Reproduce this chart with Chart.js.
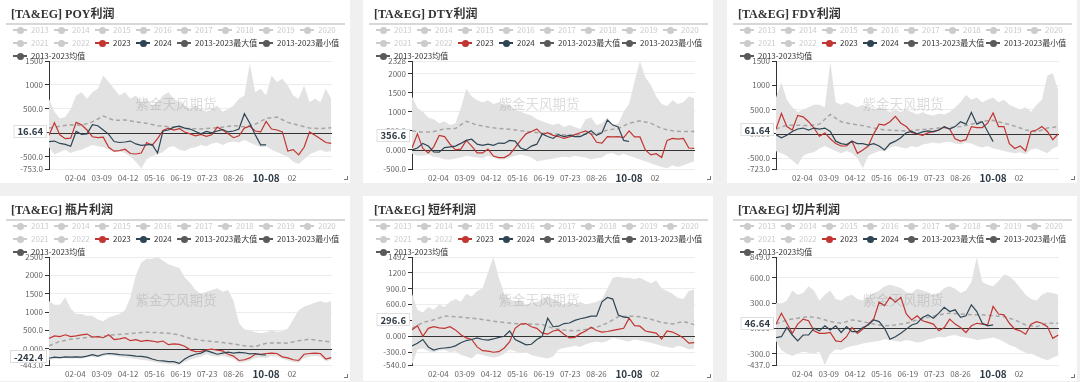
<!DOCTYPE html>
<html><head><meta charset="utf-8">
<script src="https://cdn.jsdelivr.net/npm/chart.js@4.4.0/dist/chart.umd.min.js"></script>
<style>
html,body{margin:0;padding:0;background:#f0f0f0;width:1080px;height:382px;overflow:hidden;}
.panel{position:absolute;background:#fff;width:350px;}
.title{position:absolute;left:11px;top:7px;font:bold 12px "Liberation Serif","Noto Sans CJK SC";color:#333;white-space:nowrap;line-height:14px;z-index:3;}
.rule{position:absolute;left:6px;top:23px;width:339px;height:2px;background:#d8d8d8;z-index:3;}
.leg{position:absolute;font:8px "Noto Sans CJK SC";white-space:nowrap;line-height:10px;height:10px;z-index:3;}
.ic{display:inline-block;position:relative;width:14px;height:10px;vertical-align:top;}
.ic::before{content:'';position:absolute;left:0;top:4px;width:14px;height:2px;background:var(--c);}
.ic::after{content:'';position:absolute;left:3.5px;top:1.5px;width:7px;height:7px;border-radius:50%;background:var(--c);}
.tx{display:inline-block;vertical-align:top;margin-left:4px;}
.corner{position:absolute;width:3px;height:3px;border-right:1px solid #777;border-bottom:1px solid #777;z-index:3;}
canvas{position:absolute;left:0;top:0;z-index:1;}
</style></head><body>
<script>
// ---- categories (day of year) ----
const DAYS7 = [0,7,14,21,28,35,42,49,56,63,70,77,84,91,98,105,112,119,126,133,140,147,154,161,168,175,182,189,196,203,210,217,224,231,238,245,252,259,266,273,280,287,294,301,308,315,322,329,336,343,350,357,364];
const DAYS14 = [0,14,28,42,56,70,84,98,112,126,140,154,168,182,196,210,224,238,252,266,280,294,308,322,336,350,364];
const X_TICK_DAYS = [34,68,102,136,170,204,238,306];
const X_TICK_LABELS = ['02-04','03-09','04-12','05-16','06-19','07-23','08-26','11-02'];
const POINTER_DAY = 280;
const POINTER_LABEL = '10-08';

// ---- POY ----
const poy2023 = [-50,210,-40,-120,-110,220,170,60,-80,-100,-90,-300,-380,-370,-340,-430,-440,-420,-200,-260,-120,50,100,60,90,20,-20,-60,-30,-70,-40,120,60,-20,-100,-60,100,140,40,20,240,80,60,20,-380,-350,-460,-300,20,-50,-120,-200,-220];
const poy2024 = [-180,-170,-220,-240,-280,30,-30,-20,170,150,60,-30,-180,-200,-190,-170,-230,-260,-250,-240,-420,40,60,120,140,100,80,30,-20,30,0,40,70,20,40,80,400,200,-40,-250,-250];
const poyMax = [710,440,300,330,500,780,850,710,850,920,1200,1060,920,780,850,710,780,640,710,570,640,780,850,710,640,570,500,570,500,440,500,570,440,500,570,710,780,1450,850,920,780,1200,1060,1130,990,780,710,990,640,710,640,920,710];
const poyMin = [-300,-450,-400,-350,-420,-380,-350,-300,-250,-280,-300,-350,-400,-380,-420,-500,-600,-740,-550,-480,-450,-400,-300,-280,-350,-380,-320,-300,-250,-280,-220,-200,-250,-200,-180,-200,-150,-200,-250,-300,-280,-350,-400,-450,-500,-600,-650,-550,-450,-400,-350,-400,-380];
const poyAvg = [100,140,170,160,230,350,260,270,230,200,150,130,100,90,80,100,120,150,130,180,300,330,220,160,100,90,110];

// ---- DTY ----
const dty2023 = [50,420,40,-80,80,380,350,150,0,20,250,100,-80,-80,20,-160,-200,-200,-120,60,250,420,480,550,400,450,380,350,300,340,400,450,500,420,200,180,350,340,350,320,500,340,340,0,-130,-100,-200,250,300,280,300,50,40];
const dty2024 = [0,50,170,100,-50,-60,60,80,100,170,250,280,150,120,150,120,180,170,250,230,50,0,100,150,420,350,300,400,350,380,350,350,420,500,380,450,780,650,600,250,220];
const dtyMax = [1400,1100,1000,850,800,700,750,650,700,1100,1600,1400,1300,1250,1300,1200,1250,1150,1200,1050,1000,950,900,800,750,700,650,700,600,650,600,550,800,850,650,700,850,650,700,1000,1200,1800,2320,1900,1700,1400,1200,1150,1300,1200,1250,1400,1350];
const dtyMin = [-100,-150,-150,-120,-180,-200,-250,-250,-230,-200,-150,-180,-200,-220,-150,-200,-250,-250,-200,-150,-120,-150,-200,-300,-280,-250,-230,-200,-180,-200,-150,-180,-200,-250,-220,-200,-100,-80,-150,-100,-150,-200,-250,-300,-350,-400,-450,-480,-400,-450,-400,-350,-300];
const dtyAvg = [500,460,480,550,560,750,650,600,560,540,500,470,440,420,400,390,410,420,520,560,700,760,700,560,500,480,480];

// ---- FDY ----
const fdy2023 = [100,420,150,80,380,350,250,120,-50,20,-100,-200,-250,-250,-150,-400,-330,-250,0,200,180,250,360,220,150,30,0,-30,20,50,80,140,100,-100,-150,-120,150,130,130,220,430,150,150,-200,-300,-250,-350,50,80,150,50,-120,0];
const fdy2024 = [-20,-80,-30,50,100,120,80,120,100,120,50,-150,-200,-220,-150,-200,-200,-230,-200,-250,-330,-200,-150,-80,20,50,0,40,60,40,80,150,100,150,250,200,440,200,250,50,-160];
const fdyMax = [750,1060,700,550,450,500,550,600,600,550,1480,650,600,650,600,550,600,550,500,550,500,450,500,450,500,450,400,450,400,380,420,400,450,550,650,800,700,750,650,700,750,650,700,600,550,500,550,450,600,700,1200,1250,900];
const fdyMin = [-360,-400,-450,-550,-640,-450,-400,-380,-300,-250,-300,-350,-400,-350,-400,-500,-710,-450,-400,-350,-360,-280,-250,-280,-300,-250,-280,-220,-200,-180,-200,-170,-160,-200,-220,-180,-200,-250,-280,-250,-300,-320,-350,-380,-400,-380,-420,-320,-300,-350,-400,-300,-250];
const fdyAvg = [100,180,180,170,200,400,250,200,170,120,80,70,60,80,100,120,130,150,200,260,280,220,160,80,40,120,150];

// ---- 瓶片 ----
const pet2023 = [280,350,330,380,330,350,380,400,320,330,300,380,250,270,300,220,250,200,230,210,180,210,110,130,120,70,-30,-80,-70,-30,-10,-40,-60,-150,-200,-320,-300,-250,-150,-150,-130,-120,-130,-220,-250,-300,-320,-150,-130,-120,-130,-280,-240];
const pet2024 = [-260,-230,-240,-220,-230,-220,-230,-200,-160,-200,-150,-130,-140,-160,-170,-180,-200,-210,-230,-280,-320,-330,-350,-350,-400,-280,-200,-150,-120,-50,-100,-150,-120,-90,-120,-100,-110,-140,-130,-160,-170];
const petMax = [1300,1200,1200,1400,1100,950,950,900,900,800,750,850,900,950,1050,1400,2000,2350,2450,2450,2490,2400,2300,2250,2200,1950,1800,1600,1500,1550,1600,1650,1550,1600,1300,700,530,500,450,420,450,500,460,480,550,800,1050,1150,1200,1250,1300,1250,1300];
const petMin = [-300,-270,-280,-260,-270,-260,-270,-240,-220,-240,-200,-180,-200,-220,-240,-260,-280,-300,-320,-350,-380,-400,-420,-430,-443,-360,-300,-250,-220,-150,-200,-220,-200,-230,-270,-380,-360,-320,-250,-240,-250,-200,-220,-280,-320,-360,-380,-250,-220,-200,-220,-340,-300];
const petAvg = [80,200,260,290,320,340,380,400,430,450,440,420,380,280,230,200,170,130,80,60,150,160,150,220,260,220,180];

// ---- 短纤 ----
const psf2023 = [120,200,0,150,180,160,150,180,120,30,-30,-60,-200,-270,-280,-300,-290,-220,-100,150,230,240,180,150,60,40,100,120,40,-30,-20,50,100,170,110,80,90,110,130,150,340,200,190,100,80,60,-50,100,80,30,-30,-130,-120];
const psf2024 = [-180,-130,-60,-200,-260,-230,-220,-210,-180,-120,-80,-60,-30,-60,-70,-50,-20,0,100,-60,-110,-160,-150,-60,0,340,180,190,240,250,300,330,350,380,380,650,730,700,400,360,350];
const psfMax = [800,500,450,550,500,600,550,650,700,650,800,750,850,900,1200,1490,1100,800,700,650,680,600,620,650,700,750,700,650,600,650,600,650,600,620,650,700,900,1100,1120,1100,1100,1080,1100,1050,1000,1050,900,850,800,720,700,850,880];
const psfMin = [-540,-250,-230,-280,-300,-270,-260,-300,-280,-350,-380,-420,-330,-350,-380,-400,-380,-330,-250,-280,-320,-300,-350,-380,-400,-420,-380,-250,-220,-200,-180,-200,-150,-120,-100,-120,-90,-30,-50,-80,-100,-60,-80,-100,-120,-150,-180,-200,-220,-180,-200,-250,-230];
const psfAvg = [150,260,310,380,370,350,330,300,270,250,230,230,220,150,120,100,130,170,250,370,380,370,320,260,230,280,220];

// ---- 切片 ----
const chip2023 = [50,180,60,-60,50,110,90,-30,-60,-60,-50,-150,-160,-100,10,-60,-10,50,110,310,270,370,310,370,170,100,150,90,70,50,-30,10,110,50,10,-50,30,60,50,40,260,170,160,60,-10,-30,-70,50,80,60,20,-120,-80];
const chip2024 = [-110,-100,10,-80,-150,-80,-80,0,-30,30,-20,30,-50,20,-40,-40,10,40,100,80,0,-130,-100,-60,-10,40,60,130,160,120,180,250,200,220,130,150,280,200,60,30,40];
const chipMax = [300,290,330,450,400,420,500,450,330,400,450,350,330,380,400,350,330,380,420,450,500,520,500,480,430,420,470,450,430,400,420,480,500,470,420,450,550,845,550,520,500,560,640,620,560,480,400,350,330,400,430,420,400];
const chipMin = [-150,-260,-300,-330,-300,-280,-290,-300,-280,-437,-300,-250,-260,-230,-210,-200,-180,-170,-160,-150,-130,-140,-150,-160,-140,-150,-170,-160,-130,-120,-100,-110,-90,-80,-100,-110,-120,-140,-130,-120,-110,-130,-160,-200,-220,-260,-290,-300,-330,-360,-380,-350,-320];
const chipAvg = [50,100,120,140,120,80,60,100,80,50,30,40,60,100,130,160,180,170,160,160,150,140,100,40,20,60,60];

// ---- per-panel axis settings ----
const TITLES = ['[TA&EG] POY利润','[TA&EG] DTY利润','[TA&EG] FDY利润','[TA&EG] 瓶片利润','[TA&EG] 短纤利润','[TA&EG] 切片利润'];
const Y_MIN = [-753,-500,-723,-443,-540,-437];
const Y_MAX = [1500,2328,1500,2500,1492,849];
const Y_TICKS = [
  [-753,-500,0,500,1000,1500],
  [-500,0,500,1000,1500,2000,2328],
  [-723,-500,0,500,1000,1500],
  [-443,0,500,1000,1500,2000,2500],
  [-540,-300,0,300,600,900,1200,1492],
  [-437,-300,0,300,600,849]
];
const CROSS_VALUES = [16.64,356.6,61.64,-242.4,296.6,46.64];
const SERIES = [
  [poy2023,poy2024,poyMax,poyMin,poyAvg],
  [dty2023,dty2024,dtyMax,dtyMin,dtyAvg],
  [fdy2023,fdy2024,fdyMax,fdyMin,fdyAvg],
  [pet2023,pet2024,petMax,petMin,petAvg],
  [psf2023,psf2024,psfMax,psfMin,psfAvg],
  [chip2023,chip2024,chipMax,chipMin,chipAvg]
];
const LEGEND_ROWS = [
  [['2013',20],['2014',61],['2015',102],['2016',143],['2017',184],['2018',225],['2019',266],['2020',307]],
  [['2021',20],['2022',61],['2023',102],['2024',143],['2013-2023最大值',184],['2013-2023最小值',266]],
  [['2013-2023均值',20]]
];
const WATERMARK = '紫金天风期货';

const C23 = '#c23531', C24 = '#2f4554', CSTAT = '#5a5a5a', CINACT = '#cccccc';
const FONT = '"Noto Sans CJK SC","Noto Sans",sans-serif';
Chart.defaults.font.family = FONT;

function fmt(v){ return Number(v).toPrecision(4); }
function pts(days, vals){ return vals.map((v,i)=>({x:days[i], y:v})); }

const overlay = {
  id:'overlay',
  beforeDatasetDraw(chart,args){
    if(args.index!==2) return;
    const {ctx, chartArea:a} = chart;
    const py = Math.round(chart.scales.y.getPixelForValue(0))+0.5;
    ctx.save(); ctx.strokeStyle='#333'; ctx.lineWidth=1;
    ctx.beginPath(); ctx.moveTo(a.left,py); ctx.lineTo(a.right,py); ctx.stroke(); ctx.restore();
  },
  afterDraw(chart){
    const o = chart.options.plugins.overlay;
    const {ctx, chartArea:a} = chart;
    const xs = chart.scales.x, ys = chart.scales.y;
    ctx.save();
    // watermark
    ctx.font = '13.5px '+FONT; ctx.fillStyle='rgba(140,140,140,0.30)';
    ctx.textAlign='center'; ctx.textBaseline='middle';
    ctx.fillText(WATERMARK, 176, 104);
    // y axis pointer label
    const yv = ys.getPixelForValue(o.cross) - 1;
    const yt = fmt(o.cross);
    ctx.font = 'bold 9.5px '+FONT;
    const tw = ctx.measureText(yt).width;
    const bx1 = a.left - 2, bx0 = bx1 - tw - 8;
    ctx.fillStyle='#fff'; ctx.strokeStyle='rgba(0,0,0,0.13)'; ctx.lineWidth=1;
    ctx.fillRect(bx0, yv-6.5, bx1-bx0, 13);
    ctx.strokeRect(bx0+0.5, Math.round(yv-6.5)+0.5, bx1-bx0-1, 12);
    ctx.fillStyle='#2e3a46'; ctx.textAlign='right';
    ctx.fillText(yt, bx1-4, yv+0.5);
    // x axis pointer label
    const xp = xs.getPixelForValue(POINTER_DAY);
    ctx.font = 'bold 10px '+FONT;
    const xw = ctx.measureText(POINTER_LABEL).width;
    ctx.fillStyle='#fff';
    ctx.fillRect(xp - xw/2 - 7, a.bottom+2, xw+14, 14);
    ctx.fillStyle='#2e3a46'; ctx.textAlign='center';
    ctx.fillText(POINTER_LABEL, xp, a.bottom+9.5);
    ctx.restore();
  }
};

const LEFTS = [0,363,727], TOPS = [0,196], HEIGHTS = [183,185];

for(let k=0;k<6;k++){
  const col = k%3, row = Math.floor(k/3);
  const H = HEIGHTS[row];
  const panel = document.createElement('div');
  panel.className='panel';
  panel.style.left = LEFTS[col]+'px'; panel.style.top = TOPS[row]+'px'; panel.style.height = H+'px';
  document.body.appendChild(panel);

  const t = document.createElement('div'); t.className='title'; t.textContent = TITLES[k]; panel.appendChild(t);
  const r = document.createElement('div'); r.className='rule'; panel.appendChild(r);
  LEGEND_ROWS.forEach((items,ri)=>{
    const rowY = 30 + ri*13;
    items.forEach(([name,cx])=>{
      let ic = CINACT, tc = CINACT;
      if(name==='2023'){ic=C23;tc='#333';}
      else if(name==='2024'){ic=C24;tc='#333';}
      else if(name.indexOf('2013-2023')===0){ic=CSTAT;tc='#333';}
      const it = document.createElement('div'); it.className='leg';
      it.style.left=(cx-7)+'px'; it.style.top=(rowY-5)+'px';
      it.innerHTML = '<span class="ic" style="--c:'+ic+'"></span><span class="tx" style="color:'+tc+'">'+name+'</span>';
      panel.appendChild(it);
    });
  });
  const cn = document.createElement('div'); cn.className='corner';
  cn.style.left='344px'; cn.style.top=(H-7)+'px'; panel.appendChild(cn);

  const cv = document.createElement('canvas'); cv.width=350; cv.height=H; panel.appendChild(cv);
  const [s23,s24,sMax,sMin,sAvg] = SERIES[k];
  const yTicks = Y_TICKS[k];
  new Chart(cv.getContext('2d'),{
    type:'line',
    data:{datasets:[
      {label:'2013-2023最大值', data:pts(DAYS7,sMax), borderWidth:0, pointRadius:0, fill:1, backgroundColor:'#e2e2e2', order:5, tension:0},
      {label:'2013-2023最小值', data:pts(DAYS7,sMin), borderWidth:0, pointRadius:0, fill:false, order:6, tension:0},
      {label:'2013-2023均值', data:pts(DAYS14,sAvg), borderColor:'#a6a6a6', borderWidth:1.5, borderDash:[4,3], pointRadius:0, fill:false, order:3, tension:0},
      {label:'2023', data:pts(DAYS7,s23), borderColor:C23, borderWidth:1.2, pointRadius:0, fill:false, order:2, tension:0},
      {label:'2024', data:pts(DAYS7,s24), borderColor:C24, borderWidth:1.2, pointRadius:0, fill:false, order:1, tension:0}
    ]},
    options:{
      responsive:false, animation:false, devicePixelRatio:1,
      layout:{padding:{left:0,top:61,right:18,bottom:0}},
      plugins:{legend:{display:false}, tooltip:{enabled:false}, overlay:{cross:CROSS_VALUES[k]}},
      scales:{
        x:{type:'linear', min:0, max:365,
          afterBuildTicks:(ax)=>{ax.ticks = X_TICK_DAYS.map(v=>({value:v}));},
          afterFit:(ax)=>{ax.height = H-169;},
          grid:{display:false, drawTicks:false}, border:{display:false},
          ticks:{autoSkip:false, maxRotation:0, padding:4, color:'#666', font:{size:8},
            callback:(v)=>X_TICK_LABELS[X_TICK_DAYS.indexOf(v)]}
        },
        y:{type:'linear', min:Y_MIN[k], max:Y_MAX[k],
          afterBuildTicks:(ax)=>{ax.ticks = yTicks.map(v=>({value:v}));},
          afterFit:(ax)=>{ax.width = 49;},
          grid:{color:(c)=> (c.tick && c.tick.value===0) ? 'rgba(0,0,0,0)' : '#ececec', tickColor:'#333', tickLength:4, drawTicks:true},
          border:{display:true, color:'#333', width:1},
          ticks:{padding:2, color:'#666', font:{size:8}, callback:(v)=>fmt(v)}
        }
      }
    },
    plugins:[overlay]
  });
}
</script>
</body></html>
